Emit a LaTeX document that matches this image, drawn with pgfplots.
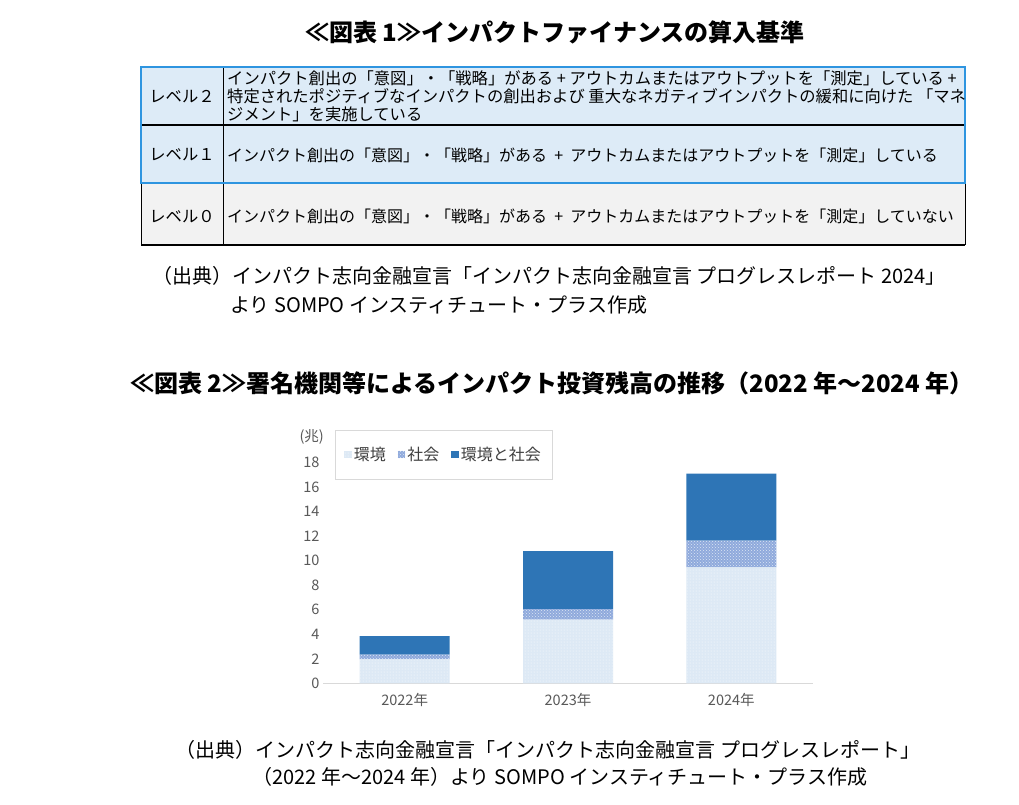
\documentclass[border=0pt]{standalone}
\usepackage{fontspec}
\setmainfont{Noto Sans CJK JP}
\usepackage{pgfplots}
\pgfplotsset{compat=1.18}
\usetikzlibrary{patterns}

\definecolor{rowblue}{HTML}{DDEBF7}
\definecolor{rowgray}{HTML}{F2F2F2}
\definecolor{tblue}{HTML}{2E95E0}
\definecolor{envc}{HTML}{DDE9F5}
\definecolor{socc}{HTML}{8FAADC}
\definecolor{bothc}{HTML}{2E75B6}
\definecolor{tgray}{HTML}{595959}
\definecolor{dgray}{HTML}{404040}
\definecolor{lgray}{HTML}{D9D9D9}

\newcommand\fs[1]{\fontsize{#1}{#1}\selectfont}

\begin{document}
\begin{tikzpicture}[x=1pt,y=1pt]
% page frame
\path[fill=white] (0,0) rectangle (1019,-804);

% ---- figure 1: table ----
\node[font=\fs{24}\bfseries] at (555,-32) {≪図表 1≫インパクトファイナンスの算入基準};

\fill[rowblue] (141,-66.7) rectangle (965,-183.3);
\fill[rowgray] (141,-183.3) rectangle (965,-245);
\draw[line width=1.2pt] (141,-125) -- (965,-125);
\draw[line width=0.8pt] (223,-66.7) -- (223,-245);
\draw[line width=0.8pt] (141,-183.3) -- (141,-245);
\draw[line width=0.6pt] (965,-183.3) -- (965,-245);
\draw[line width=1.6pt] (141,-245) -- (965,-245);
\draw[tblue, line width=2pt] (141,-66.7) rectangle (965,-183.3);

\begin{scope}[every node/.style={font=\fs{16.3}, inner sep=0pt}]
\node at (182,-96.5) {レベル２};
\node at (182,-155) {レベル１};
\node at (182,-216.5) {レベル０};
\node[anchor=west] at (227,-78) {インパクト創出の「意図」・「戦略」がある + アウトカムまたはアウトプットを「測定」している +};
\node[anchor=west] at (227,-96) {特定されたポジティブなインパクトの創出および 重大なネガティブインパクトの緩和に向けた 「マネ};
\node[anchor=west] at (227,-114) {ジメント」を実施している};
\node[anchor=west, font=\fs{16}] at (227,-155) {インパクト創出の「意図」・「戦略」がある \ + \ アウトカムまたはアウトプットを「測定」している};
\node[anchor=west, font=\fs{16}] at (227,-216.5) {インパクト創出の「意図」・「戦略」がある \ + \ アウトカムまたはアウトプットを「測定」していない};
\end{scope}

\begin{scope}[every node/.style={font=\fs{20}, inner sep=0pt, anchor=west}]
\node at (152,-276) {（出典）インパクト志向金融宣言「インパクト志向金融宣言 プログレスレポート 2024」};
\node at (230,-305) {より SOMPO インスティチュート・プラス作成};
\end{scope}

% ---- figure 2: chart ----
\node[font=\fs{24}\bfseries] at (552,-383) {≪図表 2≫署名機関等によるインパクト投資残高の推移（2022 年～2024 年）};

\node[font=\fs{14.5}, text=tgray, anchor=east, inner sep=0pt] at (324,-437) {(兆)};

\begin{axis}[
  at={(323pt,-683.3pt)}, anchor=south west,
  scale only axis, width=490pt, height=220.6pt,
  xmin=-0.5, xmax=2.5, ymin=0, ymax=18,
  ybar stacked, bar width=90pt,
  clip=false,
  axis x line=bottom, axis y line=left,
  x axis line style={draw=lgray, line width=0.8pt, -},
  y axis line style={draw=none},
  major tick length=0pt,
  xtick={0,1,2}, xticklabels={2022年,2023年,2024年},
  ytick={0,2,...,18},
  /pgf/number format/assume math mode=true,
  ticklabel style={font=\fs{14.5}, text=tgray},
  xticklabel style={yshift=-6pt},
  legend columns=3,
  legend style={at={(axis description cs:0.0245,1.148)}, anchor=north west,
    draw=lgray, line width=0.8pt, inner xsep=9pt, inner ysep=15pt,
    font=\fs{16}, text=dgray,
    /tikz/every even column/.append style={column sep=10pt}},
  legend image code/.code={\fill[#1] (0pt,-3.5pt) rectangle (7.5pt,4pt);},
]
\addplot[fill=envc, draw=none, postaction={pattern=dots, pattern color=white}]
  coordinates {(0,1.95) (1,5.2) (2,9.45)};
\addplot[fill=socc, draw=none, postaction={pattern=crosshatch dots, pattern color=white!70!socc}]
  coordinates {(0,0.4) (1,0.85) (2,2.2)};
\addplot[fill=bothc, draw=none]
  coordinates {(0,1.5) (1,4.73) (2,5.45)};
\legend{環境,社会,環境と社会}
\end{axis}

\begin{scope}[every node/.style={font=\fs{20}, inner sep=0pt}]
\node at (548,-750) {（出典）インパクト志向金融宣言「インパクト志向金融宣言 プログレスレポート」};
\node at (560,-777) {（2022 年～2024 年）より SOMPO インスティチュート・プラス作成};
\end{scope}
\end{tikzpicture}
\end{document}
